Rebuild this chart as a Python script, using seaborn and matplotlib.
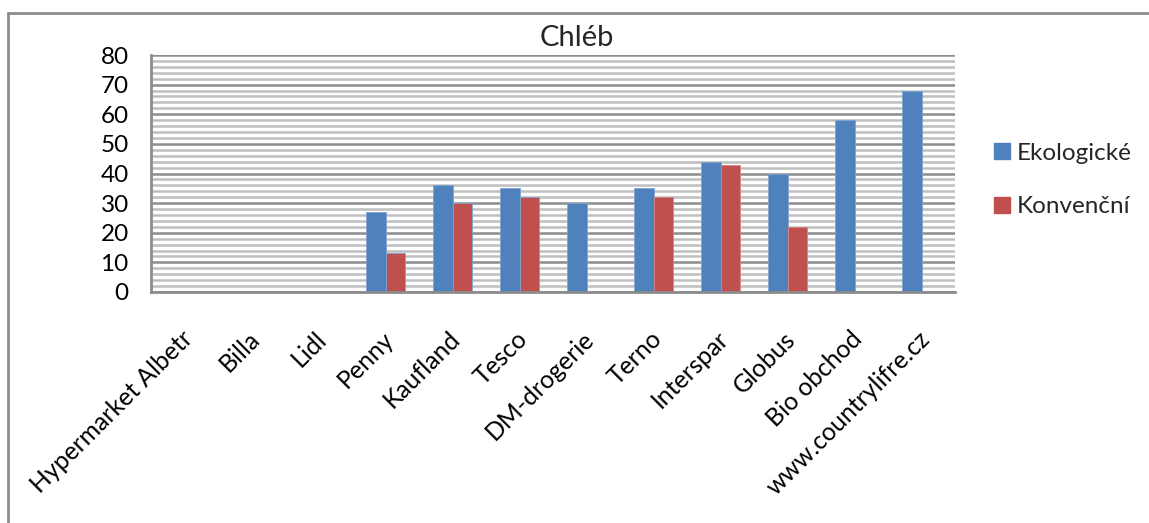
import numpy as np
import pandas as pd
import matplotlib
matplotlib.use("Agg")
import matplotlib.pyplot as plt
import matplotlib.transforms as mtrans
from matplotlib.lines import Line2D
from matplotlib.ticker import MultipleLocator
import seaborn as sns

# data
stores = ['Hypermarket Albetr', 'Billa', 'Lidl', 'Penny', 'Kaufland', 'Tesco',
          'DM-drogerie', 'Terno', 'Interspar', 'Globus', 'Bio obchod',
          'www.countrylifre.cz']
ekologicke = [np.nan, np.nan, np.nan, 27, 36, 35, 30, 35, 44, 40, 58, 68]
konvencni = [np.nan, np.nan, np.nan, 13, 30, 32, np.nan, 32, 43, 22, np.nan, np.nan]
series = ['Ekologické', 'Konvenční']
colors = ['#4F81BD', '#C0504D']

df = pd.DataFrame({'store': stores * 2,
                   'type': [series[0]] * len(stores) + [series[1]] * len(stores),
                   'value': ekologicke + konvencni})

sns.set_theme(style='white')
plt.rcParams['font.family'] = ['Lato', 'DejaVu Sans']

fig = plt.figure(figsize=(11.49, 5.23), dpi=100)
ax = fig.add_axes([151 / 1149, 1 - 292 / 523, 804 / 1149, 237 / 523])

sns.barplot(data=df, x='store', y='value', hue='type', palette=colors,
            width=0.57, gap=0, ax=ax, legend=False, saturation=1,
            edgecolor='#7FA3D0', linewidth=0.6)
# lighter edge on red bars
for p in ax.patches[len(stores):]:
    p.set_edgecolor('#D98583')

ax.set_ylim(0, 80)
ax.set_xlim(-0.5, len(stores) - 0.5)
ax.yaxis.set_major_locator(MultipleLocator(10))
ax.yaxis.set_minor_locator(MultipleLocator(2))
ax.grid(which='minor', axis='y', color='#BFBFBF', linewidth=1.8)
ax.grid(which='major', axis='y', color='#8C8C8C', linewidth=1.8)
ax.set_axisbelow(True)

for s in ['top', 'right']:
    ax.spines[s].set_visible(False)
for s in ['left', 'bottom']:
    ax.spines[s].set_color('#8C8C8C')
    ax.spines[s].set_linewidth(2)

ax.tick_params(axis='both', which='both', length=0, colors='black')
ax.tick_params(axis='y', pad=16, labelsize=17.5)
ax.set_xticks(range(len(stores)))
ax.set_xticklabels(stores, rotation=45, ha='right', rotation_mode='anchor')
ax.tick_params(axis='x', pad=18, labelsize=17.8)
shift = mtrans.ScaledTranslation(-4 / 100, -10 / 100, fig.dpi_scale_trans)
for lab in ax.get_xticklabels():
    lab.set_transform(lab.get_transform() + shift)
ax.set_xlabel('')
ax.set_ylabel('')

fig.text(577 / 1149, 1 - 38 / 523, 'Chléb', ha='center', va='center', fontsize=21)

handles = [Line2D([], [], marker='s', linestyle='', markersize=12,
                  markerfacecolor=c, markeredgecolor=c) for c in colors]
fig.legend(handles, series, loc='center left', bbox_to_anchor=(968 / 1149, 1 - 180 / 523),
           frameon=False, fontsize=17.5, handletextpad=0.1, labelspacing=1.35,
           handlelength=1.0)

# outer chart-area frame
fig.add_artist(Line2D([8 / 1149, 8 / 1149], [0, 1 - 13 / 523], color='#8C8C8C', linewidth=2))
fig.add_artist(Line2D([8 / 1149, 1], [1 - 13 / 523, 1 - 13 / 523], color='#8C8C8C', linewidth=2))

fig.savefig('out.png', dpi=100)
